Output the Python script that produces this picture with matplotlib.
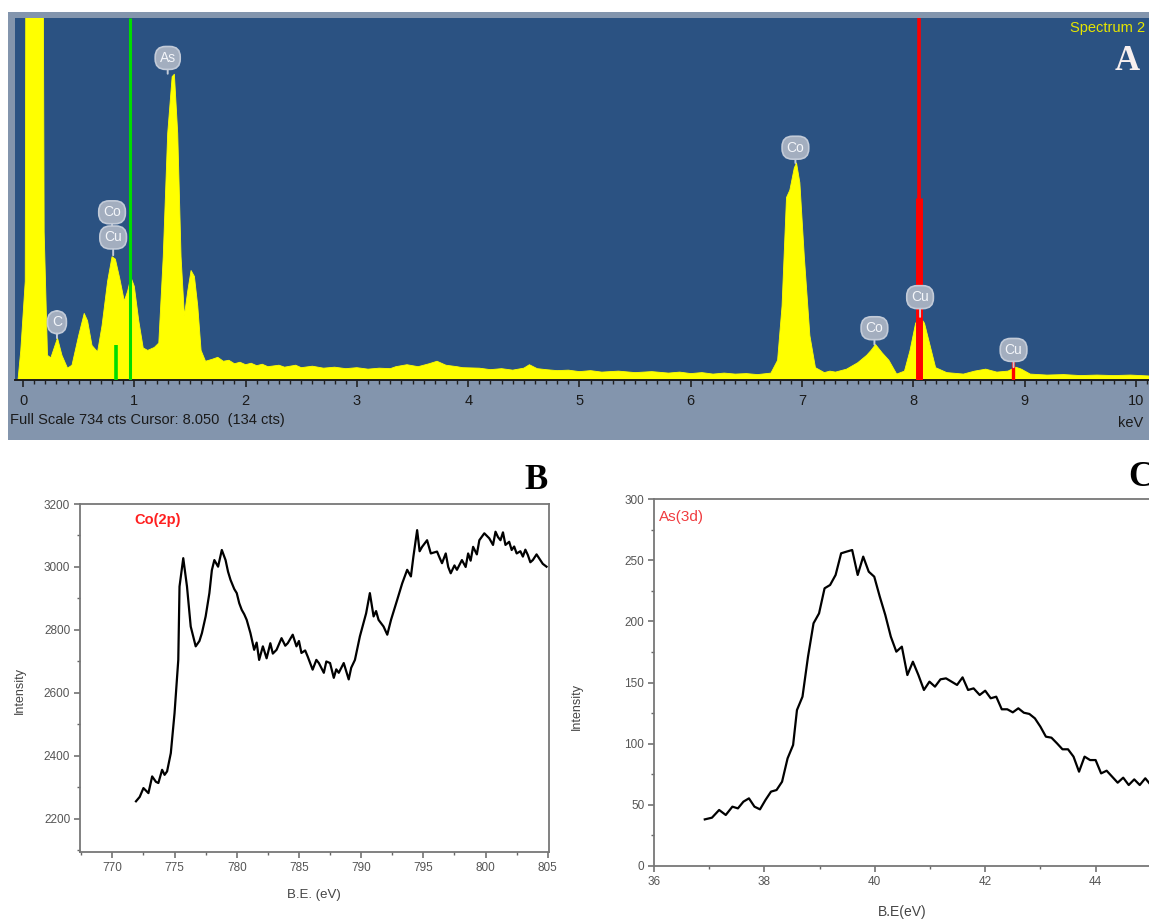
"""
EDS spectrum (A) with XPS Co(2p) (B) and As(3d) (C) panels
"""
import matplotlib
matplotlib.use('Agg')
import matplotlib.pyplot as plt
from matplotlib.ticker import MultipleLocator

plt.rcParams['font.family'] = ['Liberation Sans', 'DejaVu Sans']

# --- Panel A: EDS spectrum (keV, counts), full scale 734 cts ---
eds_kev = [-0.045, -0.02, 0.02, 0.035, 0.165, 0.19, 0.22, 0.25, 0.31, 0.35, 0.40, 0.44,
           0.50, 0.55, 0.58, 0.62, 0.67, 0.71, 0.76, 0.80, 0.83, 0.87, 0.91, 0.94, 0.97,
           1.00, 1.04, 1.08, 1.12, 1.18, 1.22, 1.26, 1.30, 1.34, 1.36, 1.39, 1.42, 1.45,
           1.48, 1.51, 1.54, 1.57, 1.60, 1.64, 1.70, 1.75, 1.80, 1.85, 1.90, 1.95, 2.00,
           2.05, 2.10, 2.15, 2.20, 2.30, 2.35, 2.45, 2.50, 2.60, 2.70, 2.80, 2.90, 3.00,
           3.10, 3.20, 3.30, 3.35, 3.45, 3.55, 3.65, 3.72, 3.80, 3.90, 3.95, 4.10, 4.20,
           4.30, 4.40, 4.50, 4.55, 4.62, 4.70, 4.80, 4.90, 5.00, 5.10, 5.20, 5.35, 5.50,
           5.65, 5.80, 5.90, 6.00, 6.10, 6.20, 6.30, 6.40, 6.50, 6.60, 6.72, 6.78, 6.82,
           6.86, 6.89, 6.93, 6.95, 6.98, 7.02, 7.07, 7.12, 7.20, 7.25, 7.30, 7.40, 7.50,
           7.58, 7.62, 7.66, 7.72, 7.78, 7.85, 7.92, 7.97, 8.02, 8.06, 8.10, 8.15, 8.20,
           8.30, 8.40, 8.45, 8.55, 8.65, 8.75, 8.85, 8.92, 8.97, 9.05, 9.20, 9.35, 9.50,
           9.65, 9.80, 9.95, 10.13]
eds_cts = [0, 60, 200, 2000, 2000, 300, 50, 45, 85, 50, 24, 30,
           90, 135, 120, 70, 57, 110, 200, 250, 245, 205, 160, 180, 208,
           190, 120, 65, 60, 66, 75, 250, 500, 615, 620, 500, 250, 130,
           180, 222, 210, 150, 60, 38, 42, 46, 38, 40, 33, 36, 31,
           34, 29, 32, 27, 30, 26, 30, 25, 28, 24, 26, 23, 25,
           22, 24, 23, 27, 31, 27, 33, 38, 30, 27, 25, 24, 21,
           23, 20, 24, 31, 23, 21, 19, 20, 17, 19, 16, 18, 15,
           17, 14, 16, 13, 15, 12, 14, 12, 13, 11, 14, 40, 150,
           370, 385, 430, 440, 400, 250, 90, 25, 15, 18, 16, 22, 35,
           50, 60, 72, 55, 40, 12, 18, 60, 115, 128, 115, 70, 25,
           15, 13, 12, 18, 22, 16, 18, 26, 22, 12, 10, 11, 9,
           10, 9, 10, 8]

eds_labels = ['C', 'Co', 'Cu', 'As', 'Co', 'Co', 'Cu', 'Cu']
eds_label_kev = [0.305, 0.80, 0.81, 1.30, 6.94, 7.65, 8.06, 8.90]
eds_label_cts = [117, 340, 289, 653, 471, 105, 168, 61]
eds_peak_cts = [85, 289, 253, 621, 440, 72, 128, 26]

marker_kev = [0.96, 0.836, 8.05, 8.05, 8.895]
marker_top = [734, 71, 734, 370, 79]
marker_colors = ['#00dd00', '#00dd00', '#ff0000', '#ff0000', '#ff0000']

# --- Panel B: Co(2p) XPS ---
co2p_be = [771.9, 772.2, 772.5, 772.9, 773.2, 773.5, 773.7, 774.0, 774.2, 774.4, 774.7, 775.0,
           775.3, 775.4, 775.7, 776.0, 776.3, 776.7, 777.0, 777.2, 777.5, 777.8, 778.0, 778.2,
           778.5, 778.8, 779.1, 779.3, 779.5, 779.8, 780.0, 780.2, 780.4, 780.6, 780.8, 781.1,
           781.4, 781.6, 781.8, 782.1, 782.4, 782.7, 782.9, 783.2, 783.6, 783.9, 784.1, 784.5,
           784.8, 785.0, 785.2, 785.5, 785.7, 786.1, 786.4, 786.6, 787.0, 787.2, 787.5, 787.8,
           788.0, 788.2, 788.6, 789.0, 789.2, 789.5, 789.9, 790.4, 790.7, 791.0, 791.2, 791.4,
           791.8, 792.1, 792.4, 792.9, 793.3, 793.7, 794.0, 794.2, 794.5, 794.7, 794.9, 795.3,
           795.6, 796.1, 796.3, 796.5, 796.8, 797.0, 797.2, 797.5, 797.7, 798.1, 798.4, 798.6,
           798.8, 799.0, 799.3, 799.5, 799.9, 800.3, 800.6, 800.8, 801.0, 801.2, 801.4, 801.6,
           801.9, 802.1, 802.3, 802.5, 802.8, 803.0, 803.2, 803.4, 803.6, 803.8, 804.1, 804.3,
           804.6, 804.9]
co2p_int = [2256, 2270, 2298, 2282, 2335, 2318, 2314, 2356, 2340, 2351, 2409, 2536,
            2705, 2938, 3028, 2938, 2811, 2748, 2765, 2790, 2843, 2917, 2990, 3022,
            3001, 3054, 3022, 2985, 2959, 2930, 2917, 2885, 2864, 2850, 2832, 2790,
            2737, 2760, 2705, 2748, 2710, 2758, 2725, 2737, 2774, 2750, 2758, 2785,
            2748, 2765, 2727, 2735, 2716, 2674, 2705, 2695, 2664, 2700, 2695, 2648,
            2675, 2664, 2695, 2643, 2680, 2705, 2780, 2853, 2917, 2843, 2860, 2832,
            2811, 2785, 2832, 2896, 2948, 2991, 2970, 3033, 3117, 3050, 3064, 3085,
            3043, 3049, 3030, 3012, 3043, 3000, 2980, 3005, 2991, 3022, 3000, 3043,
            3020, 3064, 3040, 3085, 3107, 3091, 3070, 3112, 3095, 3085, 3110, 3070,
            3080, 3054, 3065, 3043, 3050, 3033, 3055, 3038, 3015, 3022, 3040, 3028,
            3010, 3001]

# --- Panel C: As(3d) XPS ---
as3d_be = [36.92, 37.05, 37.18, 37.30, 37.42, 37.52, 37.62, 37.72, 37.82, 37.92, 38.02, 38.12,
           38.22, 38.32, 38.42, 38.52, 38.59, 38.69, 38.79, 38.89, 38.99, 39.09, 39.19, 39.29,
           39.39, 39.49, 39.59, 39.69, 39.79, 39.89, 39.99, 40.09, 40.19, 40.29, 40.39, 40.49,
           40.59, 40.69, 40.79, 40.89, 40.99, 41.09, 41.19, 41.29, 41.39, 41.49, 41.59, 41.69,
           41.79, 41.90, 42.00, 42.10, 42.20, 42.30, 42.40, 42.50, 42.60, 42.70, 42.80, 42.90,
           43.00, 43.10, 43.20, 43.30, 43.40, 43.50, 43.60, 43.70, 43.80, 43.90, 44.00, 44.10,
           44.20, 44.30, 44.40, 44.50, 44.60, 44.70, 44.80, 44.90, 45.00, 45.10]
as3d_int = [38.1, 39.5, 45.8, 41.7, 48.5, 47.1, 52.6, 55.3, 48.5, 46.3, 54.0, 60.8,
            62.1, 68.9, 88.0, 98.9, 127.5, 138.4, 171.1, 198.4, 206.5, 227.0, 229.7, 237.9,
            255.6, 257.0, 258.3, 237.9, 252.9, 240.6, 236.5, 220.2, 205.2, 187.5, 175.2, 179.3,
            156.1, 167.0, 156.1, 143.9, 150.7, 146.6, 152.6, 153.4, 150.7, 148.0, 154.2, 143.9,
            145.2, 139.8, 143.3, 137.1, 138.4, 128.1, 128.1, 125.6, 128.9, 125.3, 124.3, 120.7,
            113.9, 105.7, 104.9, 100.3, 95.4, 95.4, 89.4, 77.1, 89.4, 86.6, 86.6, 75.7,
            77.9, 73.0, 68.1, 72.2, 66.2, 70.8, 66.2, 71.7, 66.2, 70.0]

W, H = 1149, 919
fig = plt.figure(figsize=(W / 100, H / 100), dpi=100)


def px_axes(left, top, right, bottom):
    return fig.add_axes([left / W, 1 - bottom / H, (right - left) / W, (bottom - top) / H])


def ftext(x, y, s, **kw):
    fig.text(x / W, 1 - y / H, s, **kw)


# ---------------- Panel A ----------------
# grey-blue frame of the EDS screenshot
axFrame = px_axes(8, 12, 1149, 440)
axFrame.set_facecolor('#8395ad')
axFrame.set_xticks([])
axFrame.set_yticks([])
for s in axFrame.spines.values():
    s.set_visible(False)

axA = px_axes(15, 18, 1149, 380)
axA.set_facecolor('#2b5282')
axA.fill_between(eds_kev, eds_cts, color='#ffff00', lw=0.6, edgecolor='#ffff00', zorder=2)
for k, top, c, lw in zip(marker_kev, marker_top, marker_colors, [2.2, 2.6, 2.6, 5, 2.4]):
    axA.vlines(k, 0, top, colors=c, linewidth=lw, zorder=3)
for lab, lx, ly, py in zip(eds_labels, eds_label_kev, eds_label_cts, eds_peak_cts):
    axA.annotate(lab, xy=(lx, py), xytext=(lx, ly), ha='center', va='center',
                 fontsize=10, color='#f4f6fa', zorder=4,
                 bbox=dict(boxstyle='round,pad=0.32,rounding_size=0.75', fc='#a3aebf',
                           ec='#c3cbd8', lw=1.2),
                 arrowprops=dict(arrowstyle='-', color='#c3cbd8', lw=1.4, shrinkA=0, shrinkB=0))
axA.set_xlim(-0.072, 10.117)
axA.set_ylim(0, 734)
axA.set_yticks([])
for s in ['top', 'left', 'right']:
    axA.spines[s].set_visible(False)
axA.spines['bottom'].set_color('#1e1e1e')
axA.spines['bottom'].set_linewidth(1.4)
axA.set_xticks(range(11))
axA.xaxis.set_minor_locator(MultipleLocator(0.1))
axA.tick_params(axis='x', which='major', direction='out', length=5, width=1.2,
                color='#222222', labelsize=10.5, pad=5, labelcolor='#1a1a1a')
axA.tick_params(axis='x', which='minor', direction='out', length=3, width=1, color='#222222')
ftext(1145, 28, 'Spectrum 2', ha='right', va='center', fontsize=10.5, color='#e6e600')
ftext(1127, 61, 'A', ha='center', va='center', fontsize=25, fontweight='bold',
      family='Liberation Serif', color='#f7efef')
ftext(10, 420, 'Full Scale 734 cts Cursor: 8.050  (134 cts)', ha='left', va='center',
      fontsize=10.5, color='#1a1a1a')
ftext(1118, 423, 'keV', ha='left', va='center', fontsize=10.5, color='#1a1a1a')


def style_xps(ax):
    for s in ax.spines.values():
        s.set_color('#777777')
        s.set_linewidth(1.3)
    ax.tick_params(which='major', direction='out', length=4, width=1.1, color='#666666',
                   labelsize=8.5, labelcolor='#555555', pad=3)
    ax.tick_params(which='minor', direction='out', length=2.5, width=1, color='#666666')


# ---------------- Panel B ----------------
axB = px_axes(80, 504, 549, 852)
axB.plot(co2p_be, co2p_int, color='black', lw=1.6)
axB.set_xlim(767.4, 805.1)
axB.set_ylim(2095, 3200)
axB.set_xticks(range(770, 806, 5))
axB.set_yticks(range(2200, 3201, 200))
axB.xaxis.set_minor_locator(MultipleLocator(2.5))
axB.yaxis.set_minor_locator(MultipleLocator(100))
style_xps(axB)
ftext(134, 520, 'Co(2p)', ha='left', va='center', fontsize=10.5, fontweight='bold', color='#ff2020')
ftext(536, 480, 'B', ha='center', va='center', fontsize=25, fontweight='bold',
      family='Liberation Serif', color='black')
ftext(20, 690, 'Intensity', ha='center', va='center', rotation=90, fontsize=9, color='#444444')
ftext(314, 895, 'B.E. (eV)', ha='center', va='center', fontsize=9.5, color='#444444')

# ---------------- Panel C ----------------
axC = px_axes(654, 499, 1206, 866)
axC.plot(as3d_be, as3d_int, color='black', lw=1.6)
axC.set_xlim(36, 46)
axC.set_ylim(0, 300)
axC.set_xticks(range(36, 45, 2))
axC.set_yticks(range(0, 301, 50))
axC.xaxis.set_minor_locator(MultipleLocator(1))
axC.yaxis.set_minor_locator(MultipleLocator(25))
style_xps(axC)
ftext(659, 517, 'As(3d)', ha='left', va='center', fontsize=11, color='#f03c40')
ftext(1128, 478, 'C', ha='left', va='center', fontsize=25, fontweight='bold',
      family='Liberation Serif', color='black')
ftext(577, 707, 'Intensity', ha='center', va='center', rotation=90, fontsize=9, color='#444444')
ftext(902, 912, 'B.E(eV)', ha='center', va='center', fontsize=10, color='#444444')

plt.savefig('out.png', dpi=100)
plt.close()
